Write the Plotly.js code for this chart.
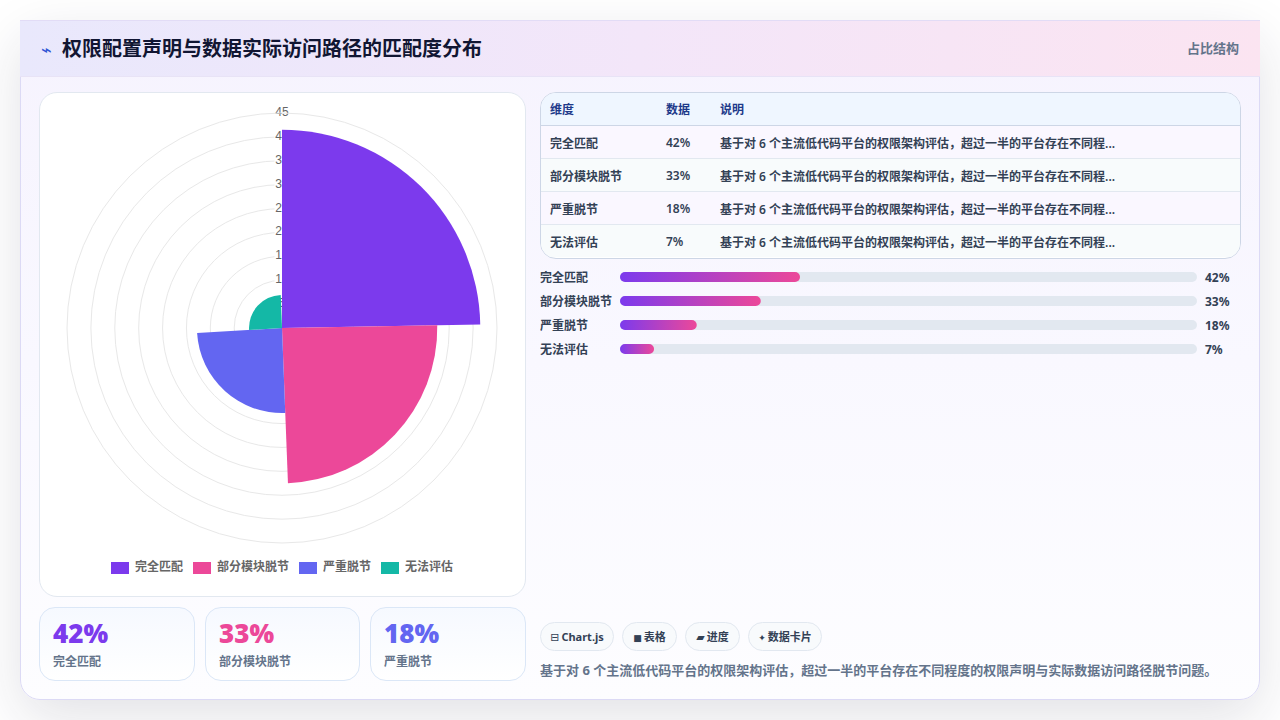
<!DOCTYPE html>
<html lang="zh"><head><meta charset="utf-8">
<script src="https://cdn.plot.ly/plotly-3.0.1.min.js"></script>
<style>
*{box-sizing:border-box}
html,body{margin:0;padding:0;width:1280px;height:720px;overflow:hidden;background:#fff;font-family:"Noto Sans","Noto Sans CJK SC",sans-serif}
.abs{position:absolute}
#panel{left:20px;top:20px;width:1240px;height:680px;border-radius:20px;border:1px solid #dcdaf5;background:linear-gradient(180deg,#f6f3fe 0%,#f9f8ff 50%,#fdfdff 100%);box-shadow:0 18px 55px rgba(30,30,60,.13)}
#head{left:20px;top:20px;width:1240px;height:56.5px;background:linear-gradient(90deg,#e9e8fc 0%,#f3e6f9 50%,#fbe4f1 100%);border-bottom:1px solid #e8e3f6;border-top:1px solid #e2dcf6}
#icon{left:41px;top:38px;font:18px/24px "DejaVu Sans";color:#2f55d4}
#title{left:62px;top:34px;font-size:20px;font-weight:700;color:#111633;line-height:29px;white-space:nowrap}
#tag{left:1187px;top:39px;font-size:13px;font-weight:700;color:#64748b;line-height:18px}
#card{left:39px;top:92px;width:487px;height:505px;border-radius:18px;background:#fff;border:1px solid #e2e8f0}
#polarDiv{left:39px;top:92px;width:487px;height:505px}
.sw{position:absolute;top:562px;width:18px;height:12px}
.lg{position:absolute;top:558px;font-size:12px;font-weight:600;color:#666;line-height:18px;white-space:nowrap}
.stat{position:absolute;top:607px;height:74px;border-radius:16px;border:1px solid #dbe7f7;background:linear-gradient(180deg,#f6f9ff,#fff)}
.stat b{position:absolute;left:13px;top:7px;font:900 26px/36px "Noto Sans",sans-serif}
.stat span{position:absolute;left:13px;top:45px;font-size:12px;font-weight:600;color:#64748b;line-height:18px;white-space:nowrap}
#tw{left:540px;top:92px;width:701px;height:167px;border:1px solid #cdd6e6;border-radius:16px;overflow:hidden;background:#fff}
table{border-collapse:collapse;width:100%;font-size:12px;font-weight:600;color:#334155;table-layout:fixed;margin-top:-1px}
th,td{padding:2px 0 0 9px;text-align:left;height:33px;border-bottom:1px solid #e2e8f0;white-space:nowrap}
th{color:#1e3a8a;background:#eff6ff;border-bottom:1px solid #cdd6e6}
tr:last-child td{border-bottom:0}
tr:nth-child(even) td{background:#faf7ff}
tr:nth-child(odd) td{background:#f8fbfc}
#barDiv{left:540px;top:265px;width:700px;height:96px}
.chip{position:absolute;top:622px;height:29px;border:1px solid #e2e8f0;border-radius:15px;background:#f8fafc;font-size:11px;font-weight:700;color:#334155;line-height:27px;text-align:center;white-space:nowrap}
.chip i{font:normal 11px "DejaVu Sans";margin-right:2px}
.chip:nth-child(2) i,.chip:nth-child(4) i{font-size:9px}
#note{left:540px;top:660px;font-size:13px;font-weight:700;color:#64748b;line-height:20px;white-space:nowrap}
</style></head><body>
<div class="abs" id="panel"></div>
<div class="abs" id="head"></div>
<div class="abs" id="icon">⌁</div>
<div class="abs" id="title">权限配置声明与数据实际访问路径的匹配度分布</div>
<div class="abs" id="tag">占比结构</div>
<div class="abs" id="card"></div>
<div class="abs" id="polarDiv"></div>
<div id="legend"></div>
<div id="stats"></div>
<div class="abs" id="tw"></div>
<div class="abs" id="barDiv"></div>
<div id="chips"></div>
<div class="abs" id="note">基于对 6 个主流低代码平台的权限架构评估，超过一半的平台存在不同程度的权限声明与实际数据访问路径脱节问题。</div>
<script>
const categories=["完全匹配","部分模块脱节","严重脱节","无法评估"];
const shownValues=[42,33,18,7];
const drawnRadius=[41.5,32.5,17.8,6.9];
const sectorStart=[0,89,177.8,266.6];
const sectorSpan=[89,88.8,88.8,91.2];
const colors=["#7c3aed","#ec4899","#6366f1","#14b8a6"];
const ringTicks=[5,10,15,20,25,30,35,40,45];
const trackFillPercent=[31.2,24.4,13.3,5.9];
const tableHead=["维度","数据","说明"];
const rowNote="基于对 6 个主流低代码平台的权限架构评估，超过一半的平台存在不同程...";
const chipIcons=["⊟","■","▰","✦"];
const chipLabels=["Chart.js","表格","进度","数据卡片"];
const legendX=[[111,135],[193,217],[299,323],[381,405]];
const statX=[[39,156],[205,155],[370,156]];
const chipX=[[540,74],[622,55],[685,55],[748,74]];

legendX.forEach((p,i)=>{
  document.getElementById('legend').insertAdjacentHTML('beforeend',
   `<div class="sw" style="left:${p[0]}px;background:${colors[i]}"></div><div class="lg" style="left:${p[1]}px">${categories[i]}</div>`);
});
statX.forEach((p,i)=>{
  document.getElementById('stats').insertAdjacentHTML('beforeend',
   `<div class="stat" style="left:${p[0]}px;width:${p[1]}px"><b style="color:${colors[i]}">${shownValues[i]}%</b><span>${categories[i]}</span></div>`);
});
chipX.forEach((p,i)=>{
  document.getElementById('chips').insertAdjacentHTML('beforeend',
   `<div class="chip" style="left:${p[0]}px;width:${p[1]}px"><i>${chipIcons[i]}</i>${chipLabels[i]}</div>`);
});
let t='<table><colgroup><col style="width:116px"><col style="width:54px"><col></colgroup><tr>'+tableHead.map(h=>`<th>${h}</th>`).join('')+'</tr>';
categories.forEach((c,i)=>{t+=`<tr><td>${c}</td><td>${shownValues[i]}%</td><td>${rowNote}</td></tr>`});
document.getElementById('tw').innerHTML=t+'</table>';

const ringColor='#e8e8e8';
const polarBase={domain:{x:[0,1],y:[0,1]},bgcolor:'rgba(0,0,0,0)',sector:[0,360]};
Plotly.newPlot('polarDiv',[
 {type:'scatterpolar',subplot:'polar',r:ringTicks,theta:ringTicks.map(()=>0),mode:'markers+text',
  text:ringTicks.map(String),textposition:'middle center',textfont:{family:'"Liberation Sans",Arial,sans-serif',size:12,color:'#666'},
  marker:{symbol:'square',size:15,color:'#fff'},hoverinfo:'skip',showlegend:false},
 {type:'barpolar',subplot:'polar2',r:drawnRadius,theta:sectorStart.map((s,i)=>s+sectorSpan[i]/2),width:sectorSpan,
  marker:{color:colors,line:{width:0}},text:categories,showlegend:false}
],{
 width:487,height:505,margin:{l:28,r:29,t:21,b:54},paper_bgcolor:'rgba(0,0,0,0)',showlegend:false,
 polar:{...polarBase,
  radialaxis:{range:[0,45],tick0:0,dtick:5,showgrid:true,gridcolor:ringColor,gridwidth:1,showline:false,ticks:'',showticklabels:false},
  angularaxis:{rotation:90,direction:'clockwise',showgrid:false,showticklabels:false,ticks:'',showline:true,linecolor:ringColor,linewidth:1}},
 polar2:{...polarBase,bargap:0,
  radialaxis:{range:[0,45],visible:false},
  angularaxis:{rotation:90,direction:'clockwise',visible:false}}
},{displayModeBar:false,staticPlot:true});

const ys=categories.map((c,i)=>i);
const txtFont={size:12,color:'#334155',family:'"Noto Sans","Noto Sans CJK SC"',weight:700};
Plotly.newPlot('barDiv',[
 {type:'bar',orientation:'h',y:ys,x:categories.map(()=>100),width:0.4167,marker:{color:'#e2e8f0'},hoverinfo:'skip'},
 {type:'bar',orientation:'h',y:ys,x:trackFillPercent,width:0.4167,xaxis:'x2',yaxis:'y2',marker:{color:'#b43fc0'},hoverinfo:'skip'}
],{
 width:700,height:96,margin:{l:80,r:43,t:0,b:0},showlegend:false,
 paper_bgcolor:'rgba(0,0,0,0)',plot_bgcolor:'rgba(0,0,0,0)',
 xaxis:{range:[0,100],visible:false,fixedrange:true},
 yaxis:{range:[3.5,-0.5],visible:false,fixedrange:true},
 xaxis2:{range:[0,100],visible:false,fixedrange:true,overlaying:'x'},
 yaxis2:{range:[3.5,-0.5],visible:false,fixedrange:true,overlaying:'y'},
 annotations:categories.flatMap((c,i)=>[
  {xref:'x',yref:'y',x:0,y:i,xshift:-81,yshift:0,xanchor:'left',showarrow:false,text:c,font:txtFont,borderpad:0},
  {xref:'x',yref:'y',x:100,y:i,xshift:7,yshift:0,xanchor:'left',showarrow:false,text:shownValues[i]+'%',font:txtFont,borderpad:0}
 ])
},{displayModeBar:false,staticPlot:true}).then(gd=>{
 const svg=gd.querySelector('svg.main-svg');
 const ns='http://www.w3.org/2000/svg';
 const lg=document.createElementNS(ns,'linearGradient');lg.id='pg';
 [['0%','#7c3aed'],['100%','#ec4899']].forEach(s=>{const e=document.createElementNS(ns,'stop');e.setAttribute('offset',s[0]);e.setAttribute('stop-color',s[1]);lg.appendChild(e)});
 svg.querySelector('defs').appendChild(lg);
 gd.querySelectorAll('.barlayer .point path').forEach(p=>{
   const isFill=p.style.fill.indexOf('180')>=0;
   const b=p.getBBox(),r=b.height/2,x=b.x,y=b.y,w=b.width,h=b.height;
   p.setAttribute('d',`M${x+r},${y}H${x+w-r}A${r},${r} 0 0 1 ${x+w-r},${y+h}H${x+r}A${r},${r} 0 0 1 ${x+r},${y}Z`);
   if(isFill)p.style.fill='url(#pg)';
 });
});
</script></body></html>
